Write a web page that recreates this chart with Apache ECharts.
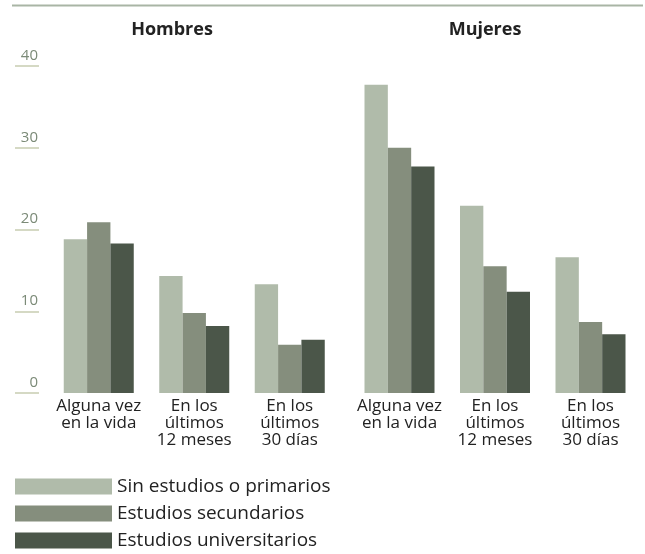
<!DOCTYPE html>
<html>
<head>
<meta charset="utf-8">
<script src="https://cdn.jsdelivr.net/npm/echarts@6/dist/echarts.min.js"></script>
<style>
  html, body { margin: 0; padding: 0; background: #ffffff; }
  #chart { width: 645px; height: 554px; }
</style>
</head>
<body>
<div id="chart"></div>
<script>
// Categories shared by both panels
const categories = ['Alguna vez\nen la vida', 'En los\núltimos\n12 meses', 'En los\núltimos\n30 días'];
const panelTitles = ['Hombres', 'Mujeres'];
const seriesNames = ['Sin estudios o primarios', 'Estudios secundarios', 'Estudios universitarios'];
const yTicks = [0, 10, 20, 30, 40];

// Percentages, men
const hombresSinEstudios = [18.8, 14.3, 13.3];
const hombresSecundarios = [20.9, 9.8, 5.9];
const hombresUniversitarios = [18.3, 8.2, 6.5];

// Percentages, women
const mujeresSinEstudios = [37.7, 22.9, 16.6];
const mujeresSecundarios = [30.0, 15.5, 8.7];
const mujeresUniversitarios = [27.7, 12.4, 7.2];

const colors = ['#b0bbaa', '#858e7d', '#4b5649'];
const font = '"Open Sans", "Noto Sans", sans-serif';

const chart = echarts.init(document.getElementById('chart'), null, { renderer: 'canvas' });

function makeXAxis(gridIndex) {
  return {
    type: 'category',
    gridIndex: gridIndex,
    data: categories,
    axisLine: { show: false },
    axisTick: { show: false },
    axisLabel: {
      interval: 0,
      margin: 5,
      color: '#222222',
      fontFamily: font,
      fontSize: 17,
      lineHeight: 17
    }
  };
}

function makeYAxis(gridIndex, visible) {
  return {
    type: 'value',
    gridIndex: gridIndex,
    min: yTicks[0],
    max: yTicks[yTicks.length - 1],
    interval: 10,
    offset: visible ? 12 : 0,
    show: visible,
    splitLine: { show: false },
    axisLine: { show: false },
    axisTick: {
      show: visible,
      length: 24,
      lineStyle: { color: '#d5d9c4', width: 2 }
    },
    axisLabel: {
      show: visible,
      margin: 1,
      color: '#7b8a77',
      fontFamily: font,
      fontSize: 15,
      lineHeight: 15,
      verticalAlign: 'bottom',
      padding: [0, 0, 3, 0]
    }
  };
}

function bar(name, gridIndex, data, color) {
  return {
    name: name,
    type: 'bar',
    xAxisIndex: gridIndex,
    yAxisIndex: gridIndex,
    data: data,
    barGap: '0%',
    barCategoryGap: '26.7%',
    itemStyle: { color: color },
    emphasis: { disabled: true },
    animation: false
  };
}

const titleStyle = { fontFamily: font, fontWeight: 'bold', fontSize: 18, color: '#222222' };

const option = {
  backgroundColor: '#ffffff',
  animation: false,
  title: [
    { text: panelTitles[0], left: 172, top: 21, padding: 0, textAlign: 'center', textStyle: titleStyle },
    { text: panelTitles[1], left: 485, top: 21, padding: 0, textAlign: 'center', textStyle: titleStyle }
  ],
  graphic: [
    { type: 'line', shape: { x1: 12, y1: 5.5, x2: 643, y2: 5.5 },
      style: { stroke: '#a9b5a5', lineWidth: 2 } }
  ],
  legend: {
    orient: 'vertical',
    left: 15,
    top: 477,
    height: 80,
    padding: 0,
    itemWidth: 97,
    itemHeight: 16,
    itemGap: 8,
    icon: 'rect',
    selectedMode: false,
    data: seriesNames,
    textStyle: { fontFamily: font, fontSize: 19, lineHeight: 16, color: '#222222', padding: [0, 0, 0, 0] }
  },
  grid: [
    { left: 51, width: 286.5, top: 66, bottom: 161, containLabel: false },
    { left: 351.75, width: 286.5, top: 66, bottom: 161, containLabel: false }
  ],
  xAxis: [makeXAxis(0), makeXAxis(1)],
  yAxis: [makeYAxis(0, true), makeYAxis(1, false)],
  series: [
    bar(seriesNames[0], 0, hombresSinEstudios, colors[0]),
    bar(seriesNames[1], 0, hombresSecundarios, colors[1]),
    bar(seriesNames[2], 0, hombresUniversitarios, colors[2]),
    bar(seriesNames[0], 1, mujeresSinEstudios, colors[0]),
    bar(seriesNames[1], 1, mujeresSecundarios, colors[1]),
    bar(seriesNames[2], 1, mujeresUniversitarios, colors[2])
  ]
};

chart.setOption(option);
</script>
</body>
</html>
